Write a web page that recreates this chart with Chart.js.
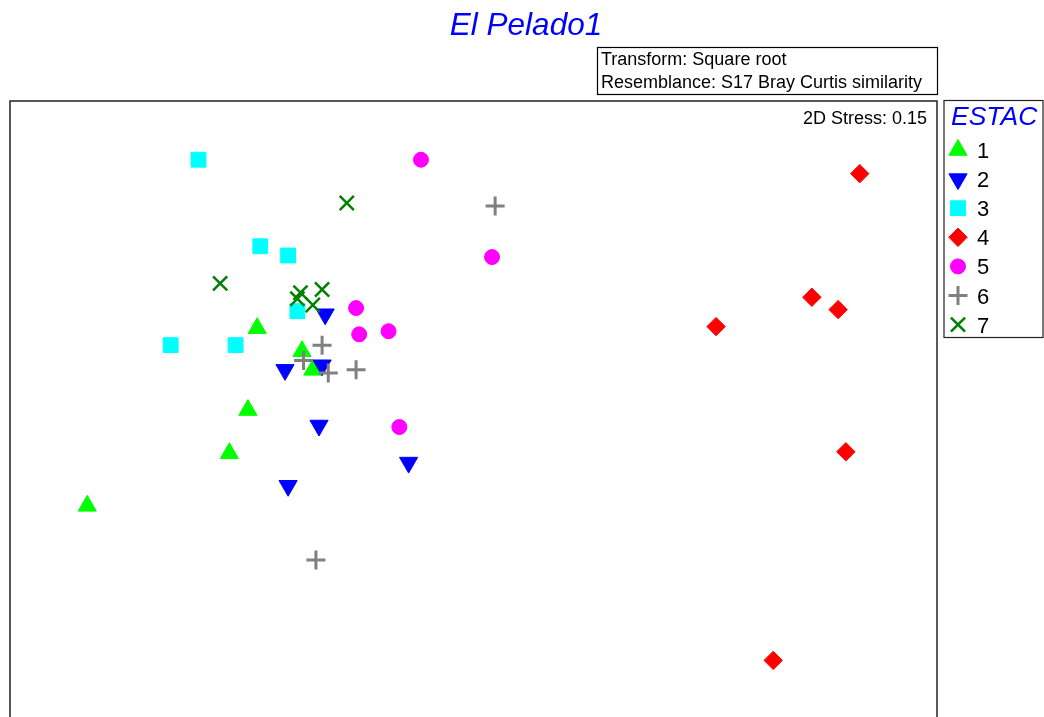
<!DOCTYPE html>
<html>
<head>
<meta charset="utf-8">
<title>El Pelado1</title>
<script src="https://cdn.jsdelivr.net/npm/chart.js@4.4.1/dist/chart.umd.min.js"></script>
<style>
  html, body { margin: 0; padding: 0; background: #fff; overflow: hidden; }
</style>
</head>
<body>
<canvas id="myChart" width="1044" height="760"></canvas>
<script>
// MDS coordinates per ESTAC group
var groups = ['1', '2', '3', '4', '5', '6', '7'];

var x1 = [-0.20, -0.055, -0.02, -0.23, -0.29, -0.75];
var y1 = [0.265, 0.19, 0.13, 0.0, -0.14, -0.31];

var x2 = [0.02, -0.11, 0.01, 0.0, 0.29, -0.10];
var y2 = [0.31, 0.13, 0.145, -0.05, -0.17, -0.245];

var x3 = [-0.39, -0.19, -0.10, -0.07, -0.48, -0.27];
var y3 = [0.81, 0.53, 0.50, 0.32, 0.21, 0.21];

var x4 = [1.75, 1.595, 1.68, 1.285, 1.705, 1.47];
var y4 = [0.765, 0.365, 0.325, 0.27, -0.135, -0.81];

var x5 = [0.33, 0.56, 0.12, 0.13, 0.225, 0.26];
var y5 = [0.81, 0.495, 0.33, 0.245, 0.255, -0.055];

var x6 = [0.57, 0.01, -0.05, 0.03, 0.12, -0.01];
var y6 = [0.66, 0.21, 0.16, 0.12, 0.13, -0.485];

var x7 = [0.09, -0.32, -0.06, -0.07, 0.01, -0.02];
var y7 = [0.67, 0.41, 0.38, 0.36, 0.39, 0.34];

var xs = [x1, x2, x3, x4, x5, x6, x7];
var ys = [y1, y2, y3, y4, y5, y6, y7];

var colors = ['#00ff00', '#0000ff', '#00ffff', '#ff0000', '#ff00ff', '#808080', '#008000'];
var styles = ['triangle', 'triangle', 'rect', 'rectRot', 'circle', 'cross', 'crossRot'];
var rotations = [0, 180, 0, 0, 0, 0, 0];
var radii = [10.5, 10.5, 10.5, 9.2, 7.5, 9.5, 10];
var lineWidths = [1, 1, 1, 1, 1, 3, 2.5];

var datasets = groups.map(function(g, i) {
    return {
        label: g,
        data: xs[i].map(function(v, j) { return { x: v, y: ys[i][j] }; }),
        pointStyle: styles[i],
        rotation: rotations[i],
        pointRadius: radii[i],
        backgroundColor: colors[i],
        borderColor: colors[i],
        borderWidth: lineWidths[i],
        order: groups.length - i
    };
});

var boxesPlugin = {
    id: 'primerBoxes',
    beforeDatasetsDraw: function(chart) {
        var ctx = chart.ctx;
        var a = chart.chartArea;
        ctx.save();
        ctx.fillStyle = '#0000ff';
        ctx.font = 'italic 31.5px "Liberation Sans", Arial, sans-serif';
        ctx.textAlign = 'center';
        ctx.textBaseline = 'alphabetic';
        ctx.fillText('El Pelado1', 526, 35);

        ctx.strokeStyle = '#000';
        ctx.lineWidth = 1.2;
        ctx.strokeRect(597.5, 47.5, 340, 47);
        ctx.fillStyle = '#000';
        ctx.font = '18px "Liberation Sans", Arial, sans-serif';
        ctx.textAlign = 'left';
        ctx.fillText('Transform: Square root', 601, 65);
        ctx.fillText('Resemblance: S17 Bray Curtis similarity', 601, 88);

        ctx.strokeStyle = '#222';
        ctx.lineWidth = 1.5;
        ctx.strokeRect(a.left, a.top, a.right - a.left, a.bottom - a.top);

        ctx.fillStyle = '#000';
        ctx.font = '18px "Liberation Sans", Arial, sans-serif';
        ctx.textAlign = 'right';
        ctx.fillText('2D Stress: 0.15', 927, 124);

        // legend box
        ctx.strokeStyle = '#222';
        ctx.lineWidth = 1.2;
        ctx.strokeRect(944, 100.5, 99, 237);
        ctx.fillStyle = '#0000ff';
        ctx.font = 'italic 26.5px "Liberation Sans", Arial, sans-serif';
        ctx.textAlign = 'left';
        ctx.fillText('ESTAC', 951, 125);
        ctx.font = '22px "Liberation Sans", Arial, sans-serif';
        groups.forEach(function(g, i) {
            var cy = 150 + i * 29.1;
            ctx.fillStyle = colors[i];
            ctx.strokeStyle = colors[i];
            ctx.lineWidth = lineWidths[i];
            Chart.helpers.drawPoint(ctx, {
                pointStyle: styles[i],
                rotation: rotations[i],
                radius: radii[i],
                borderWidth: lineWidths[i]
            }, 958, cy);
            ctx.fillStyle = '#000';
            ctx.fillText(g, 977, cy + 8);
        });
        ctx.restore();
    }
};

var ctx = document.getElementById('myChart');
var myChart = new Chart(ctx, {
    type: 'scatter',
    data: { datasets: datasets },
    options: {
        responsive: false,
        animation: false,
        devicePixelRatio: 1,
        layout: { autoPadding: false, padding: { left: 10, top: 101, right: 107, bottom: 10 } },
        plugins: {
            legend: { display: false },
            title: { display: false },
            tooltip: { enabled: false }
        },
        scales: {
            x: { type: 'linear', min: -1.0, max: 2.0, display: false },
            y: { type: 'linear', min: -1.1, max: 1.0, display: false }
        }
    },
    plugins: [boxesPlugin]
});
</script>
</body>
</html>
